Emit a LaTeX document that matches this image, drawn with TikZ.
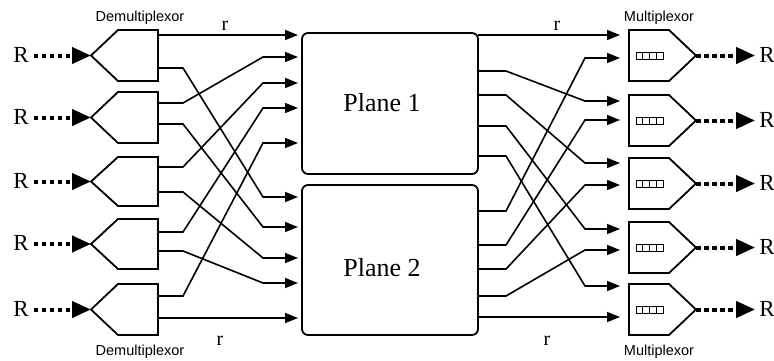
\documentclass[tikz,border=0pt]{standalone}
\usepackage{fontspec}
\setmainfont{Liberation Serif}
\newfontfamily\tagfont{Liberation Sans}
\usetikzlibrary{arrows.meta}

\begin{document}
\begin{tikzpicture}[x=1pt,y=-1pt,line join=miter,
  unit/.style={line width=1.8pt},
  conn/.style={line width=1.6pt,-{Triangle[length=13pt,width=10pt]}},
  feed/.style={line width=4pt,dash pattern=on 4.5pt off 3.5pt,
    -{Triangle[length=19pt,width=16pt]}},
  bigR/.style={font=\fontsize{23}{23}\selectfont,inner sep=1pt},
  rate/.style={font=\fontsize{20}{20}\selectfont,inner sep=0pt,anchor=base},
  tag/.style={font=\tagfont\fontsize{14.5}{14.5}\selectfont,inner sep=0pt,anchor=base},
  plane/.style={draw,line width=1.8pt,rounded corners=6pt,minimum width=176pt},
  planetext/.style={font=\fontsize{26}{26}\selectfont,inner sep=0pt,anchor=base}]
\useasboundingbox (0,0) rectangle (774,360);

% demultiplexors with their incoming feeds
\foreach \i/\t/\b in {1/30/81,2/92/143,3/157/206,4/219/269,5/284/335}{
  \pgfmathsetmacro\c{(\t+\b)/2}
  \draw[unit] (118,\t) -- (158,\t) -- (158,\b) -- (118,\b) -- (91,\c) -- cycle;
  \coordinate (dtip\i) at (91,\c);
  \node[bigR] (rin\i) at (21,{\c-1}) {R};
  \draw[feed,shorten <=4pt] (rin\i.east |- dtip\i) -- (dtip\i);
}

% multiplexors with buffers and outgoing feeds
\foreach \i/\t/\b in {1/30/81,2/95/146,3/158/209,4/222/273,5/284/335}{
  \pgfmathsetmacro\c{(\t+\b)/2}
  \draw[unit] (629,\t) -- (669,\t) -- (696,\c) -- (669,\b) -- (629,\b) -- cycle;
  \draw[line width=0.8pt] (636,{\c-3.5}) rectangle (663,{\c+3.5});
  \foreach \x in {642.75,649.5,656.25}
    \draw[line width=0.8pt] (\x,{\c-3.5}) -- (\x,{\c+3.5});
  \coordinate (mtip\i) at (696,\c);
  \node[bigR] (rout\i) at (767,{\c-1}) {R};
  \draw[feed,shorten >=3pt] (mtip\i) -- (rout\i.west |- mtip\i);
}

% switching planes
\node[plane,minimum height=141pt] (plane1) at (390,103.5) {};
\node[plane,minimum height=150pt] (plane2) at (390,260) {};
\node[planetext] (plane1text) at (382,111) {Plane 1};
\node[planetext] (plane2text) at (382,276) {Plane 2};

% demultiplexor output ports
\foreach \n/\y in {d1a/35,d1b/68,d2a/103,d2b/124,d3a/167,d3b/192,
                   d4a/232,d4b/251,d5a/296,d5b/318}
  \coordinate (\n) at (158,\y);
% plane input ports
\foreach \n/\y in {p1i1/35,p1i2/57,p1i3/83,p1i4/108,p1i5/143,
                   p2i1/197,p2i2/227,p2i3/258,p2i4/283,p2i5/318}
  \coordinate (\n) at (302,\y);
% plane output ports
\foreach \n/\y in {q1o1/35,q1o2/71,q1o3/95,q1o4/126,q1o5/156,
                   q2o1/211,q2o2/245,q2o3/269,q2o4/296,q2o5/317}
  \coordinate (\n) at (478,\y);
% multiplexor input ports
\foreach \n/\y in {m1a/35,m1b/58,m2a/101,m2b/120,m3a/163,m3b/185,
                   m4a/229,m4b/250,m5a/286,m5b/317}
  \coordinate (\n) at (629,\y);

% demultiplexors to planes
\draw[conn,shorten >=4pt] (d1a) -- (p1i1);
\draw[conn,shorten >=4pt] (d5b) -- (p2i5);
\foreach \s/\e in {d1b/p2i1,d2a/p1i2,d2b/p2i2,d3a/p1i3,d3b/p2i3,
                   d4a/p1i4,d4b/p2i4,d5a/p1i5}
  \draw[conn,shorten >=4pt] (\s) -- ++(25,0) -- ([xshift=-39pt]\e) -- (\e);

% planes to multiplexors
\draw[conn,shorten >=9pt] (q1o1) -- (m1a);
\draw[conn,shorten >=9pt] (q2o5) -- (m5b);
\foreach \s/\e in {q1o2/m2a,q1o3/m3a,q1o4/m4a,q1o5/m5a,
                   q2o1/m1b,q2o2/m2b,q2o3/m3b,q2o4/m4b}
  \draw[conn,shorten >=9pt] (\s) -- ++(28,0) -- ([xshift=-44pt]\e) -- (\e);

% line rates
\node[rate] (rtl) at (225,30) {r};
\node[rate] (rbl) at (220,345) {r};
\node[rate] (rtr) at (557,30) {r};
\node[rate] (rbr) at (547,345) {r};

% unit captions
\node[tag] (demuxtop) at (140,21) {Demultiplexor};
\node[tag] (demuxbot) at (140,355) {Demultiplexor};
\node[tag] (muxtop) at (659,21) {Multiplexor};
\node[tag] (muxbot) at (659,355) {Multiplexor};
\end{tikzpicture}
\end{document}
